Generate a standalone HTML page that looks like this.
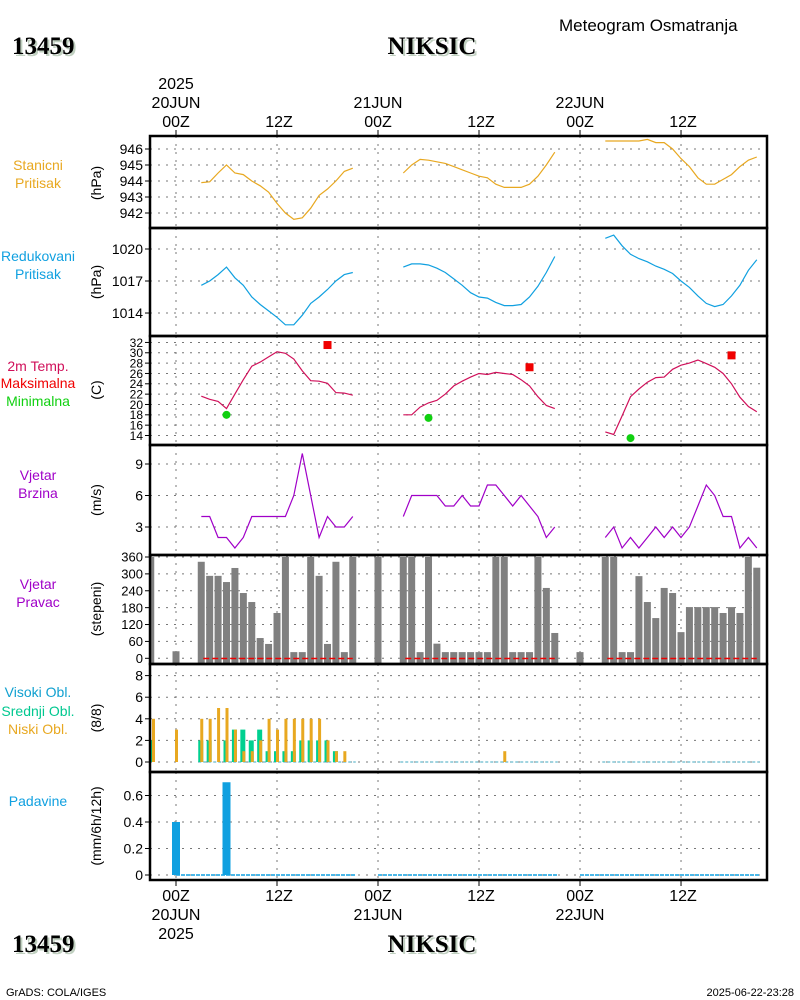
<!DOCTYPE html>
<html><head><meta charset="utf-8"><style>
body{margin:0;background:#fff;width:800px;height:1000px;overflow:hidden}
svg{display:block}
text{font-family:"Liberation Sans",sans-serif}
.serif{font-family:"Liberation Serif",serif}
</style></head><body>
<svg id="c" width="800" height="1000" viewBox="0 0 800 1000" xmlns="http://www.w3.org/2000/svg">
<g>
<text x="559" y="31" font-size="17" fill="#000">Meteogram Osmatranja</text>
<text x="14" y="56" font-size="25" font-weight="bold" style="font-family:'Liberation Serif',serif" fill="#c0d0c0">13459</text>
<text x="12" y="54" font-size="25" font-weight="bold" style="font-family:'Liberation Serif',serif" fill="#000">13459</text>
<text x="434" y="56" font-size="25" font-weight="bold" style="font-family:'Liberation Serif',serif" fill="#c0d0c0" text-anchor="middle">NIKSIC</text>
<text x="432" y="54" font-size="25" font-weight="bold" style="font-family:'Liberation Serif',serif" fill="#000" text-anchor="middle">NIKSIC</text>
<text x="14" y="954" font-size="25" font-weight="bold" style="font-family:'Liberation Serif',serif" fill="#c0d0c0">13459</text>
<text x="12" y="952" font-size="25" font-weight="bold" style="font-family:'Liberation Serif',serif" fill="#000">13459</text>
<text x="434" y="954" font-size="25" font-weight="bold" style="font-family:'Liberation Serif',serif" fill="#c0d0c0" text-anchor="middle">NIKSIC</text>
<text x="432" y="952" font-size="25" font-weight="bold" style="font-family:'Liberation Serif',serif" fill="#000" text-anchor="middle">NIKSIC</text>
<text x="6" y="996" font-size="11" fill="#000">GrADS: COLA/IGES</text>
<text x="794" y="996" font-size="11" fill="#000" text-anchor="end">2025-06-22-23:28</text>
</g>
</svg>
<script>
// ---- data (hourly, index 0 = 03Z of each day) ----
const dayStarts = [3, 27, 51];
const presSt1 = [943.9,943.95,944.5,945.0,944.5,944.4,944.0,943.7,943.3,942.6,942.0,941.6,941.7,942.3,943.1,943.5,944.0,944.6,944.8];
const presSt2 = [944.5,945.0,945.35,945.3,945.2,945.1,944.9,944.7,944.5,944.3,944.2,943.8,943.6,943.6,943.6,943.8,944.3,945.0,945.8];
const presSt3 = [946.5,946.5,946.5,946.5,946.5,946.6,946.4,946.4,946.0,945.4,944.9,944.2,943.8,943.8,944.1,944.4,944.9,945.3,945.5];
const presRd1 = [1016.6,1017.0,1017.6,1018.3,1017.3,1016.6,1015.5,1014.8,1014.2,1013.6,1012.9,1012.9,1013.8,1014.9,1015.5,1016.2,1017.0,1017.6,1017.8];
const presRd2 = [1018.3,1018.6,1018.6,1018.5,1018.2,1017.8,1017.2,1016.6,1015.9,1015.5,1015.4,1015.0,1014.7,1014.7,1014.8,1015.5,1016.5,1017.8,1019.3];
const presRd3 = [1021.0,1021.3,1020.3,1019.5,1019.1,1018.8,1018.4,1018.1,1017.7,1017.0,1016.4,1015.6,1014.9,1014.6,1014.8,1015.6,1016.6,1018.0,1019.0];
const temp1 = [21.6,21.0,20.6,19.2,22.0,24.8,27.4,28.2,29.2,30.2,29.9,28.8,26.5,24.6,24.5,24.1,22.3,22.2,21.8];
const temp2 = [18.0,18.0,19.5,20.3,20.8,22.0,23.6,24.5,25.3,26.0,25.8,26.2,26.0,25.8,24.8,23.6,21.5,19.8,19.2];
const temp3 = [14.7,14.2,17.8,21.5,23.0,24.3,25.2,25.3,26.8,27.6,28.0,28.6,27.9,27.2,26.0,24.0,21.4,19.6,18.6];
const tmaxHours = [18, 42, 66];
const tmaxVals = [31.5, 27.2, 29.5];
const tminHours = [6, 30, 54];
const tminVals = [18.0, 17.4, 13.5];
const wind1 = [4,4,2,2,1,2,4,4,4,4,4,6,10,6,2,4,3,3,4];
const wind2 = [4,6,6,6,6,5,5,6,5,5,7,7,6,5,6,5,4,2,3];
const wind3 = [2,3,1,2,1,2,3,2,3,2,3,5,7,6,4,4,1,2,1];
const dirHours = [-3,0,3,4,5,6,7,8,9,10,11,12,13,14,15,16,17,18,19,20,21,24,27,28,29,30,31,32,33,34,35,36,37,38,39,40,41,42,43,44,45,48,51,52,53,54,55,56,57,58,59,60,61,62,63,64,65,66,67,68,69];
const dirVals = [360,25,343,293,293,271,321,232,200,72,51,161,360,22,22,360,293,51,343,22,360,360,360,360,22,360,52,22,22,22,22,22,22,360,360,22,22,22,360,250,90,22,360,360,22,22,292,200,143,250,232,93,182,182,182,182,161,182,161,360,322];
const cldHours = [-3,0,3,4,5,6,7,8,9,10,11,12,13,14,15,16,17,18,19,20,39];
const cldLow = [4,3,4,4,5,5,3,1,1,2,4,3,4,4,4,4,4,2,1,1,1];
const cldMid = [2,0,2,2,0,2,3,3,2,3,1,1,1,1,2,2,2,2,1,0,0];
const precipHours = [0, 6];
const precipVals = [0.4, 0.7];
const dirTicks = [0,60,120,180,240,300,360];
const tempTicks = [14,16,18,20,22,24,26,28,30,32];

// ---- geometry ----
const X0 = 150, X1 = 767;
const xh = h => 176 + h * 8.417;
const panels = [[136,228],[228,336],[336,445],[445,555],[555,664],[664,772],[772,880]];
const yPs = v => 149 + (946 - v) * 16;
const yPr = v => 249 + (1020 - v) * 10.67;
const yT = v => 435.5 - (v - 14) * 5.17;
const yW = v => 527 - (v - 3) * 10.5;
const yD = v => 658.3 - v * 0.2814;
const yC = v => 762 - v * 10.8;
const yR = v => 875 - v * 132.5;

const svg = document.getElementById('c');
const NS = 'http://www.w3.org/2000/svg';
function mk(tag, attrs, parent) {
  const e = document.createElementNS(NS, tag);
  for (const k in attrs) e.setAttribute(k, attrs[k]);
  (parent || svg).appendChild(e);
  return e;
}
function txt(x, y, s, size, color, anchor, parent) {
  const t = mk('text', {x: x, y: y, 'font-size': size, fill: color, 'text-anchor': anchor || 'start'}, parent);
  t.textContent = s;
  return t;
}

// vertical grid lines
const gridG = mk('g', {});


[0,12,24,36,48,60].forEach(h => {
  panels.forEach(p => {
    const l = mk('line', {x1: xh(h), x2: xh(h), y1: p[0], y2: p[1], stroke: '#777', 'stroke-dasharray': '2,6'}, gridG);
    
    
  });
  const t1 = mk('line', {x1: xh(h), x2: xh(h), y1: 130, y2: 136, stroke: '#000'}, gridG);
  
  
  const t2 = mk('line', {x1: xh(h), x2: xh(h), y1: 880, y2: 886, stroke: '#000'}, gridG);
  
  
});

function hgrid(vals, yf, fmt, size, name) {
  const g = mk('g', {});
  
  
  vals.forEach(v => {
    const y = yf(v);
    const l = mk('line', {x1: X0, x2: X1, y1: y, y2: y, stroke: '#777', 'stroke-dasharray': '2,6'}, g);
    
    
    const tk = mk('line', {x1: X0 - 5, x2: X0, y1: y, y2: y, stroke: '#000'}, g);
    
    
    const t = txt(X0 - 7, y + size * 0.36, fmt(v), size, '#000', 'end', g);
    
    
  });
}
hgrid([942,943,944,945,946], yPs, v => String(v), 14, 'station-pressure-y-axis');
hgrid([1014,1017,1020], yPr, v => String(v), 14, 'reduced-pressure-y-axis');
hgrid(tempTicks, yT, v => String(v), 12, 'temperature-y-axis');
hgrid([3,6,9], yW, v => String(v), 14, 'wind-speed-y-axis');
hgrid(dirTicks, yD, v => String(v), 13, 'wind-direction-y-axis');
hgrid([0,2,4,6,8], yC, v => String(v), 14, 'cloud-y-axis');
hgrid([0,0.2,0.4,0.6], yR, v => v === 0 ? '0' : v.toFixed(1), 14, 'precipitation-y-axis');

// series lines
function series(arrs, yf, color, name) {
  const g = mk('g', {});
  
  
  arrs.forEach((a, d) => {
    const pts = a.map((v, i) => xh(dayStarts[d] + i).toFixed(1) + ',' + yf(v).toFixed(1)).join(' ');
    const pl = mk('polyline', {points: pts, fill: 'none', stroke: color, 'stroke-width': 1.2}, g);
    
    
  });
}
series([presSt1, presSt2, presSt3], yPs, '#e8a820', 'station-pressure');
series([presRd1, presRd2, presRd3], yPr, '#10a0e0', 'reduced-pressure');
series([temp1, temp2, temp3], yT, '#d0105a', 'temperature');
series([wind1, wind2, wind3], yW, '#a000c8', 'wind-speed');

// tmax/tmin markers
tmaxHours.forEach((h, i) => {
  const r = mk('rect', {x: xh(h) - 4, y: yT(tmaxVals[i]) - 4, width: 8, height: 8, fill: '#f00000'});
  
  
});
tminHours.forEach((h, i) => {
  const c = mk('circle', {cx: xh(h), cy: yT(tminVals[i]), r: 4, fill: '#10d010'});
  
  
});

// wind direction bars
const dirG = mk('g', {});


dirHours.forEach((h, i) => {
  const x = Math.max(xh(h) - 3.5, X0);
  const w = xh(h) + 3.5 - x;
  const r = mk('rect', {x: x, y: yD(dirVals[i]), width: w, height: yD(0) + 5 - yD(dirVals[i]), fill: '#808080'}, dirG);
  
  
});
dayStarts.forEach(s => {
  const l = mk('line', {x1: xh(s) + 2, x2: xh(s + 18), y1: 658.5, y2: 658.5, stroke: '#f00000', 'stroke-width': 1.5, 'stroke-dasharray': '6,3'}, dirG);
  
  
});

// cloud bars
const cldG = mk('g', {});


dayStarts.forEach(s => {
  const l = mk('line', {x1: xh(s) - 3, x2: xh(s + 18) + 3, y1: 762, y2: 762, stroke: '#40a8c0', 'stroke-width': 1, 'stroke-dasharray': '3,2'}, cldG);
  
  
});
cldHours.forEach((h, i) => {
  const c = Math.max(xh(h), X0 + 3);
  if (cldMid[i] > 0) {
    const r = mk('rect', {x: c - 3, y: yC(cldMid[i]), width: 5, height: 762 - yC(cldMid[i]), fill: '#00d090'}, cldG);
    
    
  }
  if (cldLow[i] > 0) {
    const r = mk('rect', {x: c - 1, y: yC(cldLow[i]), width: 3, height: 762 - yC(cldLow[i]), fill: '#e8a820'}, cldG);
    
    
  }
});

// precipitation
const prG = mk('g', {});


dayStarts.forEach(s => {
  const l = mk('line', {x1: xh(s - 3), x2: xh(s + 18) + 3, y1: 875, y2: 875, stroke: '#10a0e0', 'stroke-width': 1.5, 'stroke-dasharray': '4,1'}, prG);
  
  
});
precipHours.forEach((h, i) => {
  const r = mk('rect', {x: xh(h) - 4, y: yR(precipVals[i]), width: 8, height: 875 - yR(precipVals[i]), fill: '#10a0e0'}, prG);
  
  
});

// panel frames
panels.forEach((p, i) => {
  const r = mk('rect', {x: X0, y: p[0], width: X1 - X0, height: p[1] - p[0], fill: 'none', stroke: '#000', 'stroke-width': 2.5});
  
  
});

// time labels
const axG = mk('g', {});


const topLab = [[176,['2025','20JUN','00Z']],[279,['12Z']],[378,['21JUN','00Z']],[481,['12Z']],[580,['22JUN','00Z']],[683,['12Z']]];
topLab.forEach(([x, arr]) => {
  arr.forEach((s, k) => {
    const t = txt(x, 127 - (arr.length - 1 - k) * 19, s, 16, '#000', 'middle', axG);
    
    
  });
});
const botLab = [[176,['00Z','20JUN','2025']],[279,['12Z']],[378,['00Z','21JUN']],[481,['12Z']],[580,['00Z','22JUN']],[683,['12Z']]];
botLab.forEach(([x, arr]) => {
  arr.forEach((s, k) => {
    const t = txt(x, 901 + k * 19, s, 16, '#000', 'middle', axG);
    
    
  });
});

// left labels
const leftLab = [
  [['Stanicni','#e8a820',165],['Pritisak','#e8a820',183]],
  [['Redukovani','#10a0e0',256],['Pritisak','#10a0e0',274]],
  [['2m Temp.','#d0105a',366],['Maksimalna','#f00000',383],['Minimalna','#10d010',401]],
  [['Vjetar','#a000c8',475],['Brzina','#a000c8',493]],
  [['Vjetar','#a000c8',584],['Pravac','#a000c8',602]],
  [['Visoki Obl.','#10a0d0',692],['Srednji Obl.','#00c890',711],['Niski Obl.','#e8a820',729]],
  [['Padavine','#10a0e0',801]]
];
const units = [['(hPa)',183],['(hPa)',282],['(C)',390],['(m/s)',500],['(stepeni)',609],['(8/8)',718],['(mm/6h/12h)',826]];
leftLab.forEach((arr, i) => {
  arr.forEach(([s, col, y]) => {
    const t = txt(38, y + 5, s, 14, col, 'middle');
    
    
  });
  const u = units[i];
  const t = mk('text', {x: 0, y: 0, 'font-size': 14, fill: '#000', 'text-anchor': 'middle', transform: 'translate(101,' + u[1] + ') rotate(-90)'});
  t.textContent = u[0];
  
  
});
</script>
</body></html>
